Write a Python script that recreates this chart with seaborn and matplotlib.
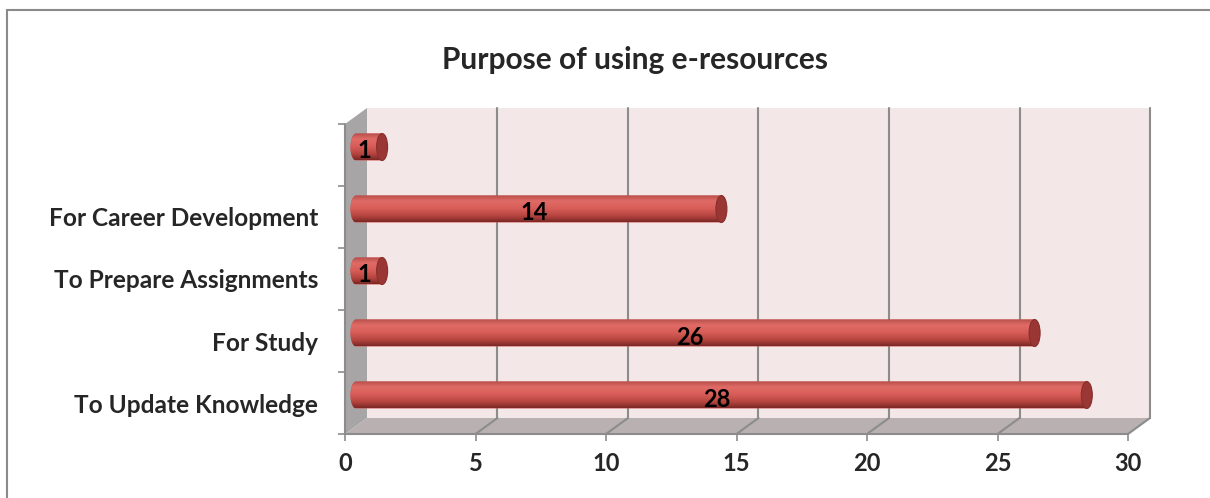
import numpy as np
import pandas as pd
import seaborn as sns
import matplotlib
matplotlib.use("Agg")
import matplotlib.pyplot as plt
from matplotlib.patches import Polygon, Ellipse, Rectangle
from matplotlib.lines import Line2D
from matplotlib.transforms import ScaledTranslation
from matplotlib.colors import to_rgb

# ---- data -------------------------------------------------------------
categories = ["", "For Career Development", "To Prepare Assignments",
              "For Study", "To Update Knowledge"]
counts = [1, 14, 1, 26, 28]
x_ticks = [0, 5, 10, 15, 20, 25, 30]
title = "Purpose of using e-resources"

# ---- style ------------------------------------------------------------
sns.set_style("white")
plt.rcParams["font.family"] = ["Lato", "DejaVu Sans"]
plt.rcParams["font.weight"] = "bold"

W, H, DPI = 1210, 498, 100
fig = plt.figure(figsize=(W / DPI, H / DPI), dpi=DPI)

# half-depth of the 3-D box, in pixels (front -> mid -> back)
DX, DY = 11, 8
GRID = "#8C8C8C"
XLIM, YLIM = (0, 30), (4.5, -0.5)
PW, PH = 783, 310          # plane size in pixels
FX, FY = 345, 434          # front plane: left / bottom pixel (from top)
UX = PW / (XLIM[1] - XLIM[0])
LEFT_PAD = 0.5             # extra room left of zero for the rounded bar ends

# front plane axes: carries the ticks and labels
axf = fig.add_axes([FX / W, (H - FY) / H, PW / W, PH / H], zorder=0)
# mid-depth axes: the cylinders sit here
ax = fig.add_axes([(FX + DX - LEFT_PAD * UX) / W, (H - FY + DY) / H,
                   (PW + LEFT_PAD * UX) / W, PH / H], zorder=1)

for a in (axf, ax):
    a.set_facecolor("none")
    for s in a.spines.values():
        s.set_visible(False)

df = pd.DataFrame({"purpose": categories, "count": counts})
BAR_H = 0.435
BAR_C = "#CC524E"
sns.barplot(data=df, x="count", y="purpose", order=categories, orient="h",
            color=BAR_C, saturation=1, width=BAR_H, ax=ax, zorder=2,
            linewidth=0, edgecolor="none")
ax.set_xlim(XLIM[0] - LEFT_PAD, XLIM[1])
ax.set_ylim(*YLIM)
ax.set_xlabel("")
ax.set_ylabel("")
ax.set_xticks([])
ax.set_yticks([])

# ticks on the front plane
axf.set_xticks(x_ticks, labels=[str(t) for t in x_ticks])
axf.set_yticks(range(len(categories)), labels=categories)
axf.set_yticks([i - 0.5 for i in range(len(categories) + 1)], minor=True)
axf.set_xlim(*XLIM)
axf.set_ylim(*YLIM)
axf.tick_params(axis="x", bottom=True, length=5, width=1.2, color=GRID,
                direction="out", pad=8, labelsize=17)
axf.tick_params(axis="y", which="major", left=True, length=0, pad=19.5,
                labelsize=17.6)
axf.tick_params(axis="y", which="minor", left=True, length=5, width=1.2,
                color=GRID, direction="out")
for lab in axf.get_xticklabels() + axf.get_yticklabels():
    lab.set_fontweight("bold")


def fpt(x, y, d):
    """data point on plane d (-1 front, 0 mid, +1 back) -> figure fraction"""
    X, Y = axf.transData.transform((x, y))
    k = d + 1
    return fig.transFigure.inverted().transform((X + k * DX, Y + k * DY))


def poly(pts, fc, z):
    axf.add_patch(Polygon(pts, closed=True, facecolor=fc, edgecolor="none",
                          transform=fig.transFigure, clip_on=False, zorder=z))


def line(p0, p1, z=0.4):
    axf.add_line(Line2D([p0[0], p1[0]], [p0[1], p1[1]], color=GRID, lw=1.5,
                        transform=fig.transFigure, clip_on=False, zorder=z))


top, bot = YLIM[1], YLIM[0]
x0, x1 = XLIM
# back wall
poly([fpt(x0, top, 1), fpt(x1, top, 1), fpt(x1, bot, 1), fpt(x0, bot, 1)],
     "#F3E7E7", 0.1)
# floor
poly([fpt(x0, bot, -1), fpt(x1, bot, -1), fpt(x1, bot, 1), fpt(x0, bot, 1)],
     "#B9B1B1", 0.15)
# gridlines on the back wall and across the floor
for t in x_ticks[1:]:
    line(fpt(t, top, 1), fpt(t, bot, 1), 0.3)
    line(fpt(t, bot, 1), fpt(t, bot, -1), 0.3)
line(fpt(x0, bot, -1), fpt(x1, bot, -1), 0.3)
# left side wall
poly([fpt(x0, top, -1), fpt(x0, top, 1), fpt(x0, bot, 1), fpt(x0, bot, -1)],
     "#A7A5A5", 0.35)
line(fpt(x0, top, -1), fpt(x0, bot, -1), 0.4)

# ---- cylinder shading -------------------------------------------------
stops = [(0.0, "#B84E4A"), (0.22, "#E06B66"), (0.5, "#D85D58"),
         (0.78, "#B5443F"), (1.0, "#7B2826")]
n = 64
pos = np.linspace(0, 1, n)
grad = np.zeros((n, 1, 3))
sp = [s[0] for s in stops]
for c in range(3):
    grad[:, 0, c] = np.interp(pos, sp, [to_rgb(s[1])[c] for s in stops])

cap_w = 11 / UX
theta = np.linspace(np.pi / 2, 3 * np.pi / 2, 40)
bars = list(ax.patches)[: len(counts)]
for i, (v, bar) in enumerate(zip(counts, bars)):
    bx0, bx1 = bar.get_x(), bar.get_x() + bar.get_width()
    by = bar.get_y() + bar.get_height() / 2
    ya, yb = by - BAR_H / 2, by + BAR_H / 2
    # body outline: rounded left end + straight run to the bar's value
    outline = [(bx0 + cap_w / 2 * np.cos(t), by - BAR_H / 2 * np.sin(t))
               for t in theta]
    outline += [(bx1, yb), (bx1, ya)]
    body = Polygon(outline, closed=True, facecolor=BAR_C, edgecolor="none",
                   lw=0, zorder=1.9)
    ax.add_patch(body)
    im = ax.imshow(grad, extent=[bx0 - cap_w, bx1, yb, ya], aspect="auto",
                   origin="upper", zorder=2.1, interpolation="bilinear")
    im.set_clip_path(body)
    ax.add_patch(Ellipse((bx1, by), cap_w, BAR_H, facecolor="#9A3633",
                         edgecolor="#86302D", lw=0.8, zorder=2.5,
                         clip_on=False))
    ax.text(v / 2, i, str(v), ha="center", va="center", fontsize=17,
            fontweight="bold", color="black", zorder=5,
            transform=ax.transData + ScaledTranslation(-5 / DPI, -4 / DPI,
                                                       fig.dpi_scale_trans))

ax.set_xlim(XLIM[0] - LEFT_PAD, XLIM[1])
ax.set_ylim(*YLIM)

fig.text(635 / W, 1 - 60 / H, title, ha="center", va="center",
         fontsize=21.5, fontweight="bold")

fig.add_artist(Rectangle((7 / W, -0.1), 2.0, (H - 10) / H + 0.1,
                         transform=fig.transFigure, fill=False,
                         edgecolor="#8A8A8A", lw=1.5))

fig.savefig("out.png", dpi=DPI)
